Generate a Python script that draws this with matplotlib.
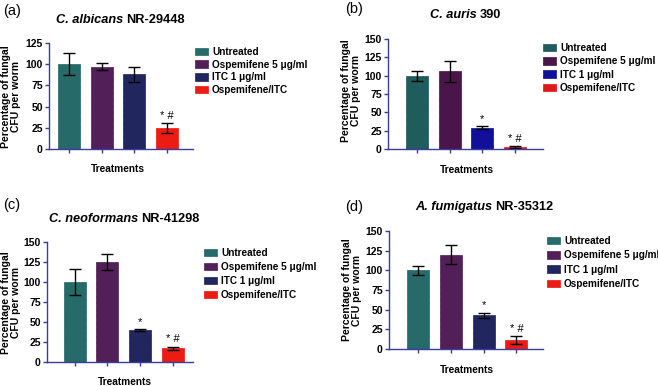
import matplotlib.pyplot as plt

plt.rcParams['font.family'] = ['Liberation Sans', 'DejaVu Sans']
plt.rcParams['hatch.linewidth'] = 0.3

treatments = ['Untreated', 'Ospemifene 5 \u03bcg/ml', 'ITC 1 \u03bcg/ml', 'Ospemifene/ITC']

# percent fungal CFU per worm
vals_a = [100, 97, 88, 25]
err_a = [13, 4, 9, 6]
vals_b = [100, 106, 29, 3]
err_b = [7, 14, 2, 1]
vals_c = [100, 125, 40, 17]
err_c = [16, 10, 1, 2]
vals_d = [100, 120, 43, 11]
err_d = [6, 12, 3, 5]

marks = ['', '', '*', '* #']
marks_a = ['', '', '', '* #']

colors_dark = ['#266a6a', '#521f58', '#22265e', '#ec1b14']
colors_b = ['#1f5c5c', '#4a1549', '#10109a', '#e01818']

spine_col = '#3c3ca0'

W, H = 658, 386
fig = plt.figure(figsize=(W / 100, H / 100), dpi=100)
LEG_FS = 7.2


def px_axes(x0, x1, ytop, ybot):
    return fig.add_axes([x0 / W, 1 - ybot / H, (x1 - x0) / W, (ybot - ytop) / H])


def panel(ax, vals, errs, cols, ymax, xlim, marks, leg_xy, row_px):
    xs = list(range(len(vals)))
    bars = ax.bar(xs, vals, width=0.67, color=cols, edgecolor=cols,
                  hatch='xxxxx', linewidth=0.5)
    ax.errorbar(xs, vals, yerr=errs, fmt='none', ecolor='black',
                elinewidth=1, capsize=4, capthick=1)
    for x, v, e, m in zip(xs, vals, errs, marks):
        if m:
            ax.text(x, v + e + ymax * 0.02, m, ha='center', va='bottom',
                    fontsize=8)
    ax.set_xlim(*xlim)
    ax.set_ylim(0, ymax)
    ax.set_yticks(range(0, ymax + 1, 25))
    ax.set_xticks(xs)
    ax.set_xticklabels([])
    for s in ['top', 'right']:
        ax.spines[s].set_visible(False)
    for s in ['left', 'bottom']:
        ax.spines[s].set_color(spine_col)
        ax.spines[s].set_linewidth(1)
    ax.tick_params(colors=spine_col, length=3, width=1, labelcolor='black',
                   labelsize=7.5, pad=1.5)
    for t in ax.get_yticklabels():
        t.set_fontweight('bold')
    fs_px = LEG_FS * 100 / 72
    ax.legend(bars, treatments, loc='upper left',
              bbox_to_anchor=(leg_xy[0] / W, 1 - (leg_xy[1] - 4) / H),
              bbox_transform=fig.transFigure, frameon=False,
              handlelength=1.25, handleheight=0.8,
              labelspacing=(row_px - 1.0 * fs_px) / fs_px,
              handletextpad=0.45, borderaxespad=0, borderpad=0,
              prop={'size': LEG_FS, 'weight': 'bold'})


def title(xsplit, y, ital, rest):
    fig.text(xsplit / W, 1 - y / H, ital, ha='right', va='center',
             fontsize=9.2, fontweight='bold', fontstyle='italic')
    fig.text((xsplit + 3) / W, 1 - y / H, rest, ha='left', va='center',
             fontsize=9.2, fontweight='bold')


def labels(tag, tag_xy, ylab_xy, tr_xy):
    fig.text(tag_xy[0] / W, 1 - tag_xy[1] / H, tag, ha='left', va='center',
             fontsize=10.5)
    fig.text(ylab_xy[0] / W, 1 - ylab_xy[1] / H,
             'Percentage of fungal\nCFU per worm', rotation=90,
             ha='center', va='center', fontsize=7.5, fontweight='bold',
             multialignment='center', linespacing=1.0)
    fig.text(tr_xy[0] / W, 1 - tr_xy[1] / H, 'Treatments', ha='center',
             va='center', fontsize=7.3, fontweight='bold')


# (a)
ax_a = px_axes(49, 193, 43, 149)
panel(ax_a, vals_a, err_a, colors_dark, 125, (-0.61, 3.8), marks_a, (195, 51), 12.7)
title(123, 20, 'C. albicans', 'NR-29448')
labels('(a)', (3, 11), (11, 97), (118, 169))

# (b)
ax_b = px_axes(388, 543, 39, 149)
panel(ax_b, vals_b, err_b, colors_b, 150, (-0.89, 3.86), marks, (543, 47), 13.3)
title(477, 15, 'C. auris', '390')
labels('(b)', (345, 9), (351, 91), (467, 170))

# (c)
ax_c = px_axes(47, 193, 242, 362)
panel(ax_c, vals_c, err_c, colors_dark, 150, (-0.84, 3.61), marks, (204, 252), 14)
title(138, 219, 'C. neoformans', 'NR-41298')
labels('(c)', (3, 205), (11, 303), (125, 382))

# (d)
ax_d = px_axes(389, 543, 231, 349)
panel(ax_d, vals_d, err_d, colors_dark, 150, (-0.88, 3.81), marks, (547, 240), 14.3)
title(492, 207, 'A. fumigatus', 'NR-35312')
labels('(d)', (345, 207), (352, 290), (467, 370))

fig.savefig('out.png', dpi=100, facecolor='white')
